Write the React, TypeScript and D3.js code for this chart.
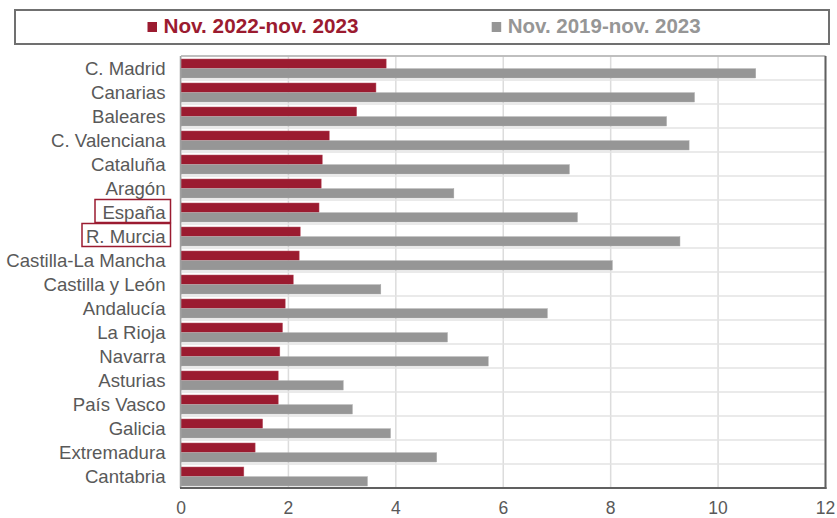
import React from "react";
import * as d3 from "d3";

const categories = [
  "C. Madrid", "Canarias", "Baleares", "C. Valenciana", "Cataluña", "Aragón",
  "España", "R. Murcia", "Castilla-La Mancha", "Castilla y León", "Andalucía",
  "La Rioja", "Navarra", "Asturias", "País Vasco", "Galicia", "Extremadura", "Cantabria",
];
const seriesRecent = [3.82, 3.63, 3.27, 2.76, 2.63, 2.61, 2.57, 2.22, 2.20, 2.09, 1.94, 1.89, 1.84, 1.81, 1.81, 1.52, 1.38, 1.17];
const seriesLong = [10.70, 9.56, 9.04, 9.46, 7.23, 5.08, 7.38, 9.29, 8.03, 3.72, 6.82, 4.96, 5.72, 3.02, 3.19, 3.90, 4.76, 3.47];
const seriesNames = ["Nov. 2022-nov. 2023", "Nov. 2019-nov. 2023"];
const xTicks = [0, 2, 4, 6, 8, 10, 12];
const highlighted = ["España", "R. Murcia"];

const RED = "#9b1b30";
const GRAY = "#969696";
const TEXT = "#595959";
const FONT = "'Liberation Sans', Arial, sans-serif";

export default function App() {
  const W = 837, H = 518;
  const left = 181, right = 825.5, top = 56, bottom = 488;
  const x = d3.scaleLinear().domain([0, 12]).range([left, right]);
  const y = d3.scaleBand<string>().domain(categories).range([top, bottom]).paddingInner(0).paddingOuter(0);
  const bw = y.bandwidth();
  const inner = d3.scaleBand<number>().domain([0, 1]).range([3, bw - 2]).paddingInner(0.05);

  return (
    <svg width={W} height={H} style={{ position: "absolute", left: 0, top: 0, fontFamily: FONT }}>
      <rect x={0} y={0} width={W} height={H} fill="#fff" />
      {/* legend */}
      <rect x={15} y={10} width={814} height={34} fill="#fff" stroke="#707070" strokeWidth={2} />
      <rect x={147.5} y={22} width={9.5} height={10} fill={RED} />
      <text x={163.5} y={33} fontSize={20} fontWeight="bold" fill={RED} textLength={195} lengthAdjust="spacingAndGlyphs">{seriesNames[0]}</text>
      <rect x={491.7} y={22} width={9.5} height={10} fill={GRAY} />
      <text x={507.7} y={33} fontSize={20} fontWeight="bold" fill={GRAY} textLength={193} lengthAdjust="spacingAndGlyphs">{seriesNames[1]}</text>

      {/* grid */}
      {xTicks.map((t) => (
        <line key={"gx" + t} x1={x(t)} x2={x(t)} y1={top} y2={bottom} stroke="#dcdcdc" strokeWidth={1.5} />
      ))}
      {categories.map((c) => (
        <line key={"gy" + c} x1={left} x2={right} y1={(y(c) as number)} y2={(y(c) as number)} stroke="#e3e3e3" strokeWidth={1.5} />
      ))}

      {/* bars */}
      {categories.map((c, i) => {
        const y0 = y(c) as number;
        return (
          <g key={"b" + c}>
            <rect x={x(0)} y={y0 + (inner(0) as number)} width={x(seriesRecent[i]) - x(0)} height={inner.bandwidth()} fill={RED} stroke="#b85566" strokeWidth={0.5} />
            <rect x={x(0)} y={y0 + (inner(1) as number)} width={x(seriesLong[i]) - x(0)} height={inner.bandwidth()} fill={GRAY} stroke="#a8a8a8" strokeWidth={0.5} />
          </g>
        );
      })}

      {/* frame */}
      <line x1={left} x2={right} y1={top} y2={top} stroke="#b0b0b0" strokeWidth={1.5} />
      <line x1={left - 0.5} x2={left - 0.5} y1={top} y2={bottom} stroke="#a0a0a0" strokeWidth={1.5} />
      <line x1={right} x2={right} y1={top} y2={bottom + 1} stroke="#606060" strokeWidth={2} />
      <line x1={left - 1} x2={right + 1} y1={bottom} y2={bottom} stroke="#606060" strokeWidth={2} />

      {/* category labels */}
      {categories.map((c) => (
        <text key={"l" + c} x={165.5} y={(y(c) as number) + bw / 2} dy="0.35em" textAnchor="end" fontSize={18.6} fill={TEXT}>{c}</text>
      ))}
      {highlighted.map((c) => {
        const y0 = y(c) as number;
        const tw = c === "España" ? 75.5 : 88.5;
        return <rect key={"h" + c} x={170.5 - tw} y={y0 - 0.5} width={tw} height={23} fill="none" stroke={RED} strokeWidth={1.5} />;
      })}

      {/* x tick labels */}
      {xTicks.map((t) => (
        <text key={"t" + t} x={x(t)} y={514} textAnchor="middle" fontSize={17.5} fill={TEXT}>{t}</text>
      ))}
    </svg>
  );
}
